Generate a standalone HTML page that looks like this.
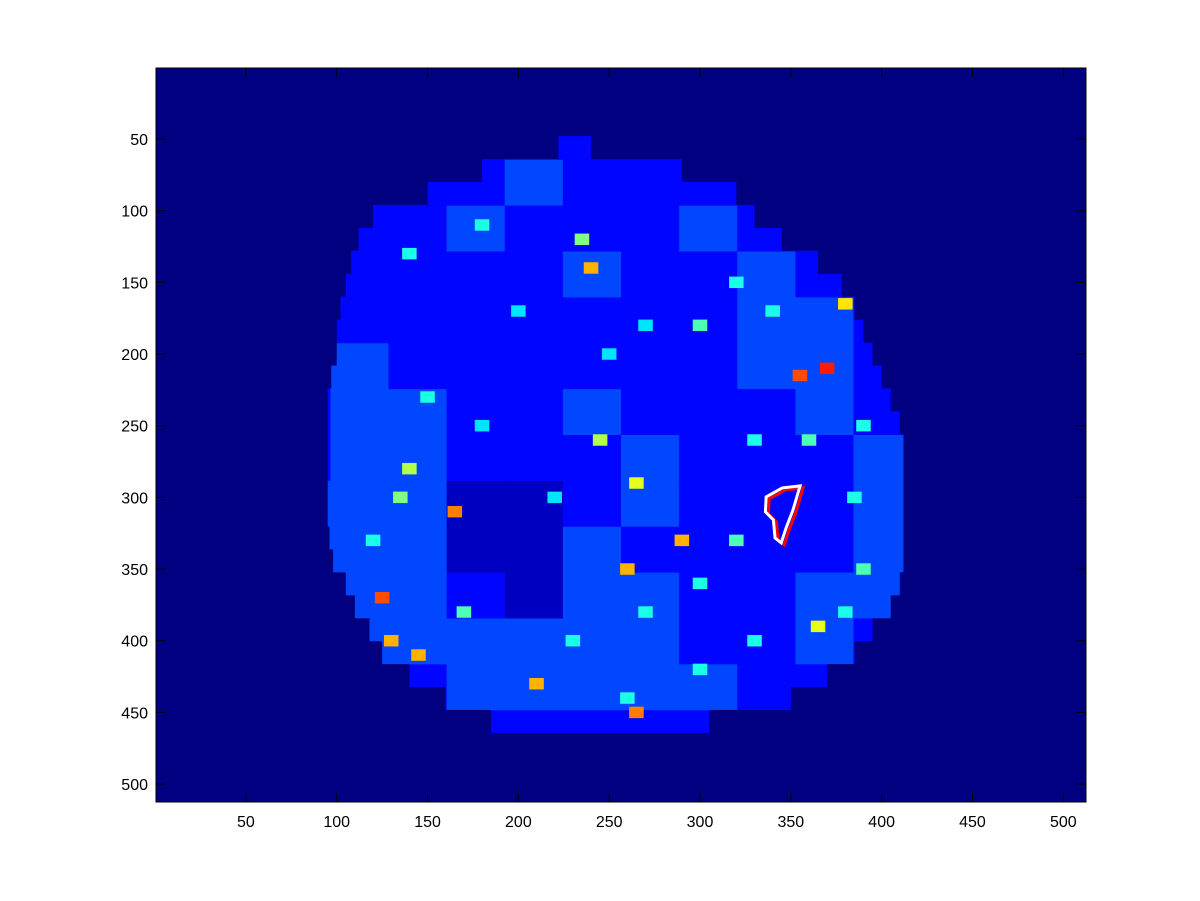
<!DOCTYPE html>
<html><head><meta charset="utf-8"><style>
html,body{margin:0;padding:0;background:#fff;}
svg{display:block;font-family:"Liberation Sans",sans-serif;}
</style></head><body>
<svg id="chart" width="1200" height="901" viewBox="0 0 1200 901"></svg>
<script>
// Coarse block intensities (32-unit blocks), rows top->bottom, cols left->right
const blockRows = [
 [2,2,2,2,2,2,2,2,2,2,2,2,2,2,2,2],
 [2,2,2,2,2,2,2,2,2,2,2,2,2,2,2,2],
 [2,2,2,2,2,2,3,2,2,2,2,2,2,2,2,2],
 [2,2,2,2,2,3,2,2,2,3,2,2,2,2,2,2],
 [2,2,2,2,2,2,2,3,2,2,3,2,2,2,2,2],
 [2,2,2,2,2,2,2,2,2,2,3,3,2,2,2,2],
 [2,2,2,3,2,2,2,2,2,2,3,3,2,2,2,2],
 [2,2,2,3,3,2,2,3,2,2,2,3,2,2,2,2],
 [2,2,2,3,3,2,2,2,3,2,2,2,3,2,2,2],
 [2,2,3,3,3,1,1,2,3,2,2,2,3,2,2,2],
 [2,2,3,3,3,1,1,3,2,2,2,2,3,2,2,2],
 [2,2,2,3,3,2,1,3,3,2,2,3,3,2,2,2],
 [2,2,2,3,3,3,3,3,3,2,2,3,2,2,2,2],
 [2,2,2,2,2,3,3,3,3,3,2,2,2,2,2,2],
 [2,2,2,2,2,2,2,2,2,2,2,2,2,2,2,2],
 [2,2,2,2,2,2,2,2,2,2,2,2,2,2,2,2]
];
// Brain mask: left/right extents per 16-unit row (image units)
const maskRowStart = [3,4,5,6,7,8,9,10,11,12,13,14,15,16,17,18,19,20,21,22,23,24,25,26,27,28];
const maskLeft  = [222,180,150,120,112,108,105,102,100,100,97,95,95,95,95,95,95,96,98,105,110,118,125,140,160,185];
const maskRight = [240,290,320,330,345,365,378,385,390,395,400,405,410,412,412,412,412,412,412,410,405,395,385,370,350,305];
// Hot spots and streaks (x, y in image units; value 0..1 on jet scale)
const hotX = [140,165,240,370,260,125,130,365,210,265,290,245,265,145,380,355,135,235,300,320,
              140,180,270,320,330,360,385,390,380,120,180,220,300,330,230,170,270,200,250,340,390,150,260,300];
const hotY = [280,310,140,210,350,370,400,390,430,450,330,260,290,410,165,215,300,120,180,330,
              130,110,180,150,260,260,300,350,380,330,250,300,420,400,400,380,380,170,200,170,250,230,440,360];
const hotV = [0.55,0.75,0.7,0.85,0.7,0.8,0.7,0.6,0.7,0.75,0.7,0.55,0.6,0.7,0.65,0.8,0.5,0.5,0.45,0.45,
              0.4,0.4,0.35,0.4,0.4,0.45,0.4,0.45,0.4,0.4,0.35,0.35,0.4,0.4,0.4,0.45,0.4,0.35,0.35,0.4,0.4,0.4,0.4,0.4];
// ROI contour (image units)
const roiX = [336.4,345.2,355.1,351.2,347.4,344.7,341.3,340.4,336.0];
const roiY = [299.7,293.4,292.0,308.7,321.3,331.7,328.3,315.7,310.1];
const tickVals = [50,100,150,200,250,300,350,400,450,500];

const L=156,T=68,W=930,H=734,N=512;
const sx=v=>L+(v-0.5)/N*W, sy=v=>T+(v-0.5)/N*H;
function jet(t){t=Math.max(0,Math.min(1,t));
 const c=x=>Math.max(0,Math.min(1,x));
 const r=c(Math.min(4*t-1.5,-4*t+4.5)),g=c(Math.min(4*t-0.5,-4*t+3.5)),b=c(Math.min(4*t+0.5,-4*t+2.5));
 return `rgb(${Math.round(r*255)},${Math.round(g*255)},${Math.round(b*255)})`;}
const NS="http://www.w3.org/2000/svg", svg=document.getElementById('chart');
function mk(tag,attrs,parent){const e=document.createElementNS(NS,tag);for(const k in attrs)e.setAttribute(k,attrs[k]);(parent||svg).appendChild(e);return e;}

const defs=mk('defs',{});
const cp=mk('clipPath',{id:'brain'},defs);
maskRowStart.forEach((r,i)=>{
 mk('rect',{x:sx(maskLeft[i]),y:sy(r*16),width:sx(maskRight[i])-sx(maskLeft[i]),height:sy(r*16+16)-sy(r*16)+0.5},cp);
});

const bg=mk('rect',{x:L,y:T,width:W,height:H,fill:jet(0)});


const g=mk('g',{'clip-path':'url(#brain)'});


blockRows.forEach((row,r)=>row.forEach((v,c)=>{
 const x0=sx(c*32+0.5),x1=sx(c*32+32.5),y0=sy(r*32+0.5),y1=sy(r*32+32.5);
 const cell=mk('rect',{x:x0,y:y0,width:x1-x0+0.5,height:y1-y0+0.5,fill:jet(v*0.065)},g);
 
 
}));
hotX.forEach((hx,i)=>{
 const s=mk('rect',{x:sx(hx-4),y:sy(hotY[i]-4),width:sx(hx+4)-sx(hx-4),height:sy(hotY[i]+4)-sy(hotY[i]-4),fill:jet(hotV[i])},g);
 
 
});
const pts=roiX.map((x,i)=>sx(x)+','+sy(roiY[i])).join(' ');
const roiR=mk('polygon',{points:roiX.map((x,i)=>(sx(x)+3)+','+(sy(roiY[i])+2)).join(' '),fill:'none',stroke:'#f00','stroke-width':3});


const roi=mk('polygon',{points:pts,fill:'none',stroke:'#fff','stroke-width':3});



const frame=mk('rect',{x:L,y:T,width:W,height:H,fill:'none',stroke:'#000','stroke-width':1});


tickVals.forEach(v=>{
 const x=sx(v),y=sy(v);
 mk('line',{x1:x,y1:T+H,x2:x,y2:T+H-9,stroke:'#000'});
 mk('line',{x1:x,y1:T,x2:x,y2:T+9,stroke:'#000'});
 mk('line',{x1:L,y1:y,x2:L+9,y2:y,stroke:'#000'});
 mk('line',{x1:L+W,y1:y,x2:L+W-9,y2:y,stroke:'#000'});
 const tx=mk('text',{x:x,y:T+H+25,'text-anchor':'middle','font-size':16,fill:'#000'});
 tx.textContent=v;
 
 
 const ty=mk('text',{x:L-8,y:y+6,'text-anchor':'end','font-size':16,fill:'#000'});
 ty.textContent=v;
 
 
});
</script>
</body></html>
